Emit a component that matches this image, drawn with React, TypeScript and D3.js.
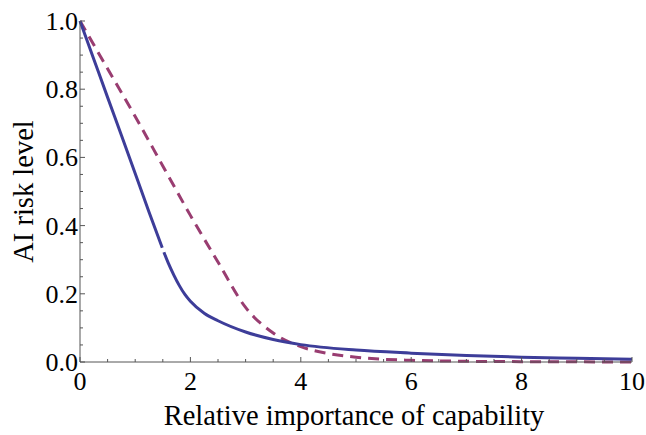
import React from "react";
import * as d3 from "d3";

const xTicks = [0, 2, 4, 6, 8, 10];
const yTicks = [0, 0.2, 0.4, 0.6, 0.8, 1.0];
const xTickLabels = ["0", "2", "4", "6", "8", "10"];
const yTickLabels = ["0.0", "0.2", "0.4", "0.6", "0.8", "1.0"];

const blueLeftX = [0, 0.25, 0.5, 0.75, 1.0, 1.25, 1.49];
const blueLeftY = [1, 0.888, 0.776, 0.665, 0.553, 0.44, 0.335];
const blueRightX = [1.52, 1.6, 1.7, 1.8, 1.9, 2.0, 2.25, 2.5, 3, 3.5, 4, 5, 6, 7, 8, 9, 10];
const blueRightY = [0.322, 0.29, 0.255, 0.224, 0.198, 0.178, 0.143, 0.121, 0.088, 0.066, 0.051, 0.035, 0.026, 0.019, 0.014, 0.011, 0.008];
const dashX = [0, 0.5, 1, 1.5, 2, 2.5, 3, 3.5, 4, 4.5, 5, 5.5, 6, 7, 8, 9, 10];
const dashY = [1, 0.86, 0.72, 0.575, 0.43, 0.293, 0.16, 0.085, 0.045, 0.025, 0.014, 0.008, 0.005, 0.002, 0.001, 0.0005, 0];

const W = 646;
const H = 435;
const FONT = '"Liberation Serif", "Times New Roman", serif';

export default function App() {
  const x = d3.scaleLinear().domain([0, 10]).range([80, 632]);
  const y = d3.scaleLinear().domain([0, 1]).range([362, 21]);
  const line = d3
    .line<[number, number]>()
    .x((d) => x(d[0]))
    .y((d) => y(d[1]))
    .curve(d3.curveMonotoneX);
  const zip = (a: number[], b: number[]) => a.map((v, i) => [v, b[i]] as [number, number]);

  const xMinor = d3.range(0, 10.001, 0.5).filter((v) => Math.abs(v % 2) > 1e-6);
  const yMinor = d3.range(0, 1.0001, 0.05).filter((v) => Math.abs(v * 5 - Math.round(v * 5)) > 1e-6);

  const axisColor = "#555";
  const ts = { fontFamily: FONT, fontSize: "26px" } as React.CSSProperties;
  const ls = { fontFamily: FONT, fontSize: "28.5px" } as React.CSSProperties;
  return (
    <svg width={W} height={H} style={{ position: "absolute", left: 0, top: 0, background: "#fff" }}>
      <rect x={0} y={0} width={W} height={H} fill="#fff" />
      <path d={line(zip(dashX, dashY)) || ""} fill="none" stroke="#993D71" strokeWidth={3} strokeDasharray="11,7" />
      <path d={line(zip(blueLeftX, blueLeftY)) || ""} fill="none" stroke="#3D3D99" strokeWidth={3} />
      <path d={line(zip(blueRightX, blueRightY)) || ""} fill="none" stroke="#3D3D99" strokeWidth={3} />
      <line x1={x(0)} x2={x(10)} y1={y(0)} y2={y(0)} stroke={axisColor} strokeWidth={1} />
      <line x1={x(0)} x2={x(0)} y1={y(0)} y2={y(1)} stroke={axisColor} strokeWidth={1} />
      {xTicks.map((t) => (
        <line key={"xt" + t} x1={x(t)} x2={x(t)} y1={y(0)} y2={y(0) - 5} stroke={axisColor} />
      ))}
      {xMinor.map((t) => (
        <line key={"xm" + t} x1={x(t)} x2={x(t)} y1={y(0)} y2={y(0) - 3} stroke={axisColor} />
      ))}
      {yTicks.map((t) => (
        <line key={"yt" + t} x1={x(0)} x2={x(0) + 5} y1={y(t)} y2={y(t)} stroke={axisColor} />
      ))}
      {yMinor.map((t) => (
        <line key={"ym" + t} x1={x(0)} x2={x(0) + 3} y1={y(t)} y2={y(t)} stroke={axisColor} />
      ))}
      {xTicks.map((t, i) => (
        <text key={"xl" + t} x={x(t)} y={390} textAnchor="middle" style={ts} fill="#000">
          {xTickLabels[i]}
        </text>
      ))}
      {yTicks.map((t, i) => (
        <text key={"yl" + t} x={78} y={y(t) + 9} textAnchor="end" style={ts} fill="#000">
          {yTickLabels[i]}
        </text>
      ))}
      <text x={354} y={425} textAnchor="middle" style={ls} fill="#000">
        Relative importance of capability
      </text>
      <text
        transform={`translate(33, ${(y(0) + y(1)) / 2}) rotate(-90)`}
        textAnchor="middle"
        style={ls}
        fill="#000"
      >
        AI risk level
      </text>
    </svg>
  );
}
